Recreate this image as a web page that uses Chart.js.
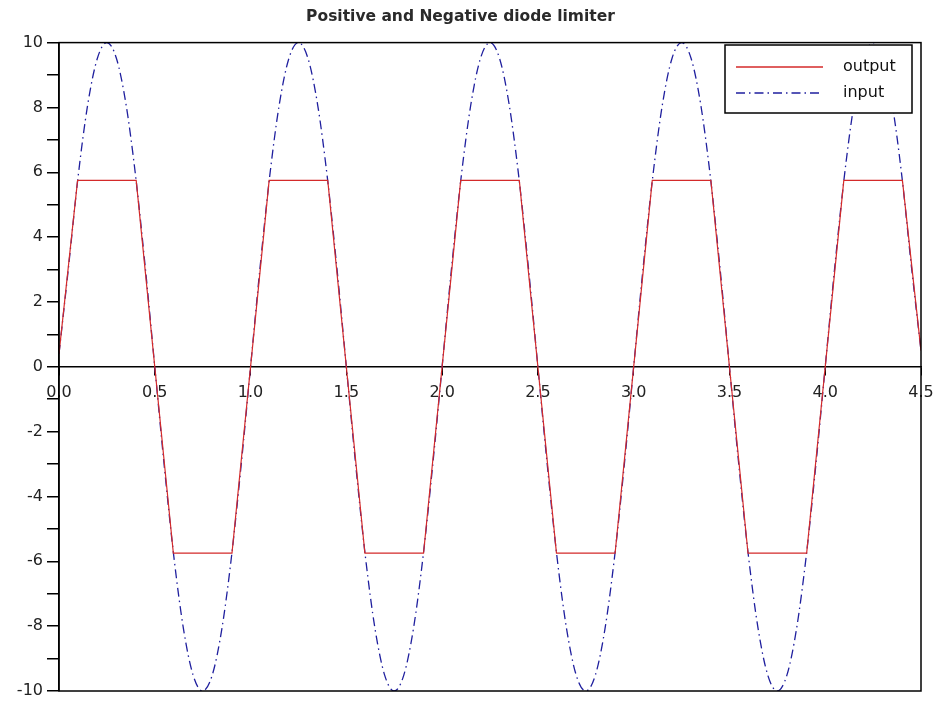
<!DOCTYPE html>
<html>
<head>
<meta charset="utf-8">
<script src="https://cdn.jsdelivr.net/npm/chart.js@4"></script>
<style>
  html, body { margin: 0; padding: 0; background: #fff; }
  #wrap { width: 936px; height: 706px; }
</style>
</head>
<body>
<div id="wrap"><canvas id="chart" width="936" height="706"></canvas></div>
<script>
// sampled input (read every 0.05 s)
const inputT = [
  0, 0.05, 0.1, 0.15, 0.2, 0.25, 0.3, 0.35, 0.4, 0.45,
  0.5, 0.55, 0.6, 0.65, 0.7, 0.75, 0.8, 0.85, 0.9, 0.95,
  1.0, 1.05, 1.1, 1.15, 1.2, 1.25, 1.3, 1.35, 1.4, 1.45,
  1.5, 1.55, 1.6, 1.65, 1.7, 1.75, 1.8, 1.85, 1.9, 1.95,
  2.0, 2.05, 2.1, 2.15, 2.2, 2.25, 2.3, 2.35, 2.4, 2.45,
  2.5, 2.55, 2.6, 2.65, 2.7, 2.75, 2.8, 2.85, 2.9, 2.95,
  3.0, 3.05, 3.1, 3.15, 3.2, 3.25, 3.3, 3.35, 3.4, 3.45,
  3.5, 3.55, 3.6, 3.65, 3.7, 3.75, 3.8, 3.85, 3.9, 3.95,
  4.0, 4.05, 4.1, 4.15, 4.2, 4.25, 4.3, 4.35, 4.4, 4.45,
  4.5
];
const inputV = [
  0.4, 3.09, 5.88, 8.09, 9.51, 10, 9.51, 8.09, 5.88, 3.09,
  0, -3.09, -5.88, -8.09, -9.51, -10, -9.51, -8.09, -5.88, -3.09,
  0, 3.09, 5.88, 8.09, 9.51, 10, 9.51, 8.09, 5.88, 3.09,
  0, -3.09, -5.88, -8.09, -9.51, -10, -9.51, -8.09, -5.88, -3.09,
  0, 3.09, 5.88, 8.09, 9.51, 10, 9.51, 8.09, 5.88, 3.09,
  0, -3.09, -5.88, -8.09, -9.51, -10, -9.51, -8.09, -5.88, -3.09,
  0, 3.09, 5.88, 8.09, 9.51, 10, 9.51, 8.09, 5.88, 3.09,
  0, -3.09, -5.88, -8.09, -9.51, -10, -9.51, -8.09, -5.88, -3.09,
  0, 3.09, 5.88, 8.09, 9.51, 10, 9.51, 8.09, 5.88, 3.09,
  0.5
];

// clipped output, corner points
const outputT = [
  0, 0.097, 0.403, 0.597, 0.903,
  1.097, 1.403, 1.597, 1.903,
  2.097, 2.403, 2.597, 2.903,
  3.097, 3.403, 3.597, 3.903,
  4.097, 4.403, 4.5
];
const outputV = [
  0.4, 5.75, 5.75, -5.75, -5.75,
  5.75, 5.75, -5.75, -5.75,
  5.75, 5.75, -5.75, -5.75,
  5.75, 5.75, -5.75, -5.75,
  5.75, 5.75, 0.5
];

const seriesNames = ['output', 'input'];
const xTicks = [0, 0.5, 1.0, 1.5, 2.0, 2.5, 3.0, 3.5, 4.0, 4.5];

const toPoints = (xs, ys) => xs.map((x, i) => ({ x: x, y: ys[i] }));

// box round the plot + legend in the top right corner
const framePlugin = {
  id: 'frame',
  afterDraw(chart) {
    const ctx = chart.ctx;
    const a = chart.chartArea;
    ctx.save();
    ctx.strokeStyle = '#000';
    ctx.lineWidth = 1.5;
    ctx.strokeRect(a.left, a.top, a.right - a.left, a.bottom - a.top);

    // legend
    const bx = 725, by = 45, bw = 187, bh = 68;
    ctx.fillStyle = '#fff';
    ctx.fillRect(bx, by, bw, bh);
    ctx.strokeRect(bx, by, bw, bh);
    ctx.font = '16px "DejaVu Sans"';
    ctx.textBaseline = 'middle';
    chart.data.datasets.forEach((ds, i) => {
      const y = by + 22 + i * 26;
      ctx.strokeStyle = ds.borderColor;
      ctx.lineWidth = 1.5;
      ctx.setLineDash(ds.borderDash || []);
      ctx.beginPath();
      ctx.moveTo(bx + 11, y);
      ctx.lineTo(bx + 98, y);
      ctx.stroke();
      ctx.setLineDash([]);
      ctx.fillStyle = '#111';
      ctx.fillText(ds.label, bx + 118, y);
    });
    ctx.restore();
  }
};

const ctx = document.getElementById('chart').getContext('2d');
new Chart(ctx, {
  type: 'line',
  data: {
    datasets: [
      {
        label: seriesNames[0],
        data: toPoints(outputT, outputV),
        borderColor: '#d42a2a',
        borderWidth: 1.2,
        pointRadius: 0,
        tension: 0
      },
      {
        label: seriesNames[1],
        data: toPoints(inputT, inputV),
        borderColor: '#1f1f9e',
        borderWidth: 1.3,
        borderDash: [9, 4, 1.5, 4],
        pointRadius: 0,
        cubicInterpolationMode: 'monotone'
      }
    ]
  },
  options: {
    responsive: false,
    animation: false,
    layout: { padding: { left: 0, right: 15, top: 0, bottom: 15 } },
    plugins: {
      legend: { display: false },
      tooltip: { enabled: false },
      title: {
        display: true,
        text: 'Positive and Negative diode limiter',
        color: '#2a2a2a',
        font: { family: 'DejaVu Sans', size: 15.5, weight: 'bold' },
        padding: { top: 8, bottom: 16 }
      }
    },
    scales: {
      x: {
        type: 'linear',
        position: { y: 0 },
        min: 0,
        max: 4.5,
        afterBuildTicks: s => { s.ticks = xTicks.map(v => ({ value: v })); },
        afterFit: s => { s.paddingLeft = 0; s.paddingRight = 0; },
        ticks: {
          autoSkip: false,
          maxRotation: 0,
          color: '#222',
          padding: 8,
          font: { family: 'DejaVu Sans', size: 16 },
          callback: v => v.toFixed(1)
        },
        grid: { drawOnChartArea: false, drawTicks: true, tickLength: 8, color: '#000' },
        border: { display: true, color: '#000', width: 1.5 }
      },
      y: {
        min: -10,
        max: 10,
        afterFit: s => { s.width = 59; },
        ticks: {
          stepSize: 1,
          color: '#222',
          padding: 4,
          font: { family: 'DejaVu Sans', size: 16 },
          callback: v => (v % 2 === 0 ? String(v) : '')
        },
        grid: { drawOnChartArea: false, drawTicks: true, tickLength: 12, color: '#000', lineWidth: 1.5 },
        border: { display: true, color: '#000', width: 1.5 }
      }
    }
  },
  plugins: [framePlugin]
});
</script>
</body>
</html>
